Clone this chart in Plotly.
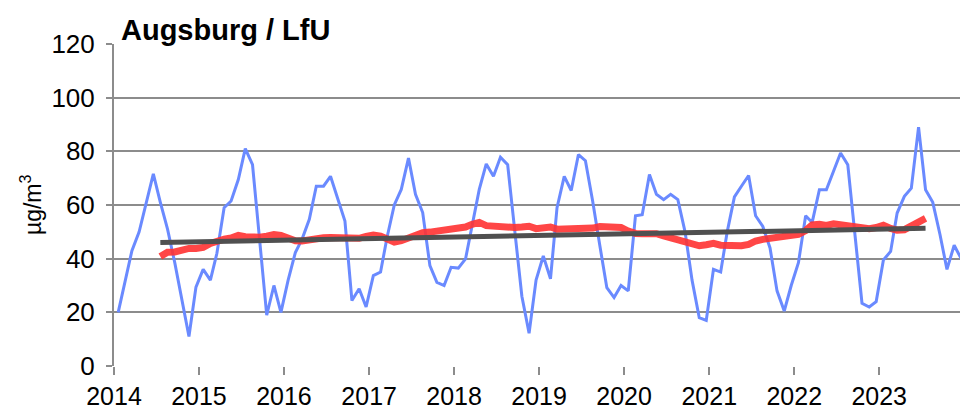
import plotly.graph_objects as go

# Monthly values Jan 2014 .. Dec 2023 (µg/m³)
monthly = [
    20, 32, 43, 50, 61, 71.6, 61, 51, 38.5, 25.4, 11, 29.4,
    36, 32, 42, 59, 61.5, 69.5, 81, 75, 47, 19, 30, 20,
    32, 42.3, 47.3, 54.7, 67, 67, 70.7, 62.7, 54, 24.4, 28.8, 22,
    33.7, 35, 48, 60, 65.8, 77.5, 64, 57.2, 37.4, 31.2, 30, 36.8,
    36.5, 39.9, 51.6, 65.8, 75.3, 70.7, 77.8, 75, 50, 26, 12.2, 32,
    41, 32.5, 59, 70.7, 65.4, 78.8, 76.5, 61.5, 44.8, 29.2, 25.5, 30,
    28, 56, 56.4, 71.4, 64, 62, 64, 62, 50, 32, 18, 17,
    36, 35, 50, 63, 67, 71, 56, 52, 44, 28, 20.5, 30,
    38.5, 56, 53.5, 65.7, 65.7, 72.5, 79.4, 75, 50, 23.4, 22, 24,
    39.5, 42.7, 57, 63.2, 66.3, 89, 65.7, 61, 49, 36, 45, 40,
]

# Running annual mean, months 7 (Jul 2014) .. 115 (Jul 2023)
running_mean = [
    40.8, 42.4, 42.5, 43.3, 43.8, 43.8,
    44.2, 45.7, 46.7, 47.3, 47.7, 48.7, 48.2, 48.0, 48.0, 48.4, 49.0, 48.7,
    47.8, 46.7, 46.6, 47.2, 47.5, 47.8, 47.9, 47.7, 47.4, 47.4, 47.6, 48.3,
    48.8, 48.4, 47.2, 46.2, 46.7, 47.8, 49.3, 49.7, 49.9, 50.2, 50.6, 51.0,
    51.3, 51.8, 52.8, 53.5, 52.3, 52.0, 51.9, 52.0, 51.6, 51.8, 52.1, 51.2,
    51.8, 51.8, 51.0, 51.0, 51.2, 51.4, 51.5, 51.4, 52.0, 51.9, 51.8, 51.6,
    50.3, 49.4, 49.3, 49.2, 49.3, 48.5, 47.8, 47.3, 46.3, 45.4, 44.8, 45.2,
    45.7, 45.0, 44.8, 44.8, 44.8, 45.3, 46.6, 47.2, 47.6, 48.1, 48.4, 48.6,
    49.1, 50.5, 52.6, 52.8, 52.4, 53.0, 52.6, 52.3, 51.8, 51.1, 51.2, 51.6,
    52.5, 51.3, 50.6, 50.8, 52.0, 53.3, 55.0,
]
rm_start_index = 6

# Linear trend (start / end values)
trend_values = [46.0, 51.3]
trend_months = [6, 114]

years = list(range(2014, 2024))
year_labels = [str(y) for y in years]
y_ticks = [0, 20, 40, 60, 80, 100, 120]


def month_date(i):
    y = 2014 + i // 12
    m = i % 12 + 1
    return f"{y}-{m:02d}-19"


x_monthly = [month_date(i) for i in range(len(monthly))]
x_rm = [month_date(rm_start_index + i) for i in range(len(running_mean))]
x_trend = [month_date(i) for i in trend_months]

fig = go.Figure()
fig.add_trace(go.Scatter(x=x_monthly, y=monthly, mode="lines",
                         line=dict(color="#6A8AFF", width=3), showlegend=False))
fig.add_trace(go.Scatter(x=x_rm, y=running_mean, mode="lines",
                         line=dict(color="rgba(255,50,50,0.9)", width=7), showlegend=False))
fig.add_trace(go.Scatter(x=x_trend, y=trend_values, mode="lines",
                         line=dict(color="#505050", width=5), showlegend=False))

font_family = "Liberation Sans, Arial, sans-serif"
fig.update_layout(
    width=960, height=412,
    margin=dict(l=114, r=0, t=44, b=46),
    paper_bgcolor="white", plot_bgcolor="white",
    font=dict(family=font_family, color="black", size=26),
    xaxis=dict(
        type="date",
        automargin=False,
        range=["2014-01-01", "2023-12-14"],
        tickvals=[f"{y}-01-01" for y in years],
        ticktext=year_labels,
        showgrid=False, zeroline=False,
        showline=False,
        ticks="outside", ticklen=8, tickwidth=2, tickcolor="#8C8C8C",
        tickfont=dict(size=25),
        ticklabelstandoff=0,
    ),
    yaxis=dict(
        automargin=False,
        range=[0, 120],
        tickvals=y_ticks,
        showgrid=True, gridcolor="#8C8C8C", gridwidth=2,
        zeroline=False,
        showline=True, linecolor="#8C8C8C", linewidth=2,
        ticks="outside", ticklen=6, tickwidth=2, tickcolor="#8C8C8C",
        tickfont=dict(size=26),
        ticklabelstandoff=6,
    ),
    annotations=[
        dict(
            text="<b>Augsburg / LfU</b>", xref="paper", yref="paper",
            x=0.006, y=1.0, xanchor="left", yanchor="bottom", showarrow=False,
            font=dict(size=29, family=font_family), yshift=-4,
        ),
        dict(
            text="µg/m<sup>3</sup>", xref="paper", yref="paper",
            x=-0.098, y=0.5, xanchor="center", yanchor="middle", showarrow=False,
            textangle=-90, font=dict(size=23, family=font_family),
        ),
    ],
)

fig.write_html("out.html", config={"displayModeBar": False},
               post_script="document.body.style.margin='0';")
